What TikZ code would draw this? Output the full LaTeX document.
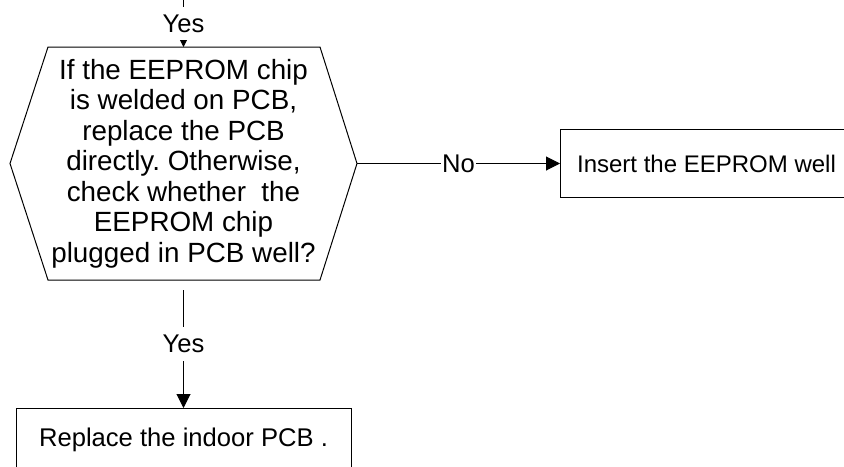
\documentclass[tikz,border=0pt]{standalone}
\usepackage{fontspec}
\setmainfont{Liberation Sans}
\usetikzlibrary{arrows.meta,positioning}
\frenchspacing

\begin{document}
\begin{tikzpicture}[
  x = 0.5pt, y = -0.5pt,
  every node/.style={font=\fontsize{12.8}{15}\selectfont},
  process/.style={draw, line width=0.5pt, minimum height=34pt, inner sep=0},
  flow/.style={line width=0.5pt, -{Triangle[length=7pt, width=7pt]}},
  answer/.style={fill=white, inner xsep=0.5pt, inner ysep=4pt},
  every text node part/.style={align=center}
]
%general params
\def\hx{183.5} %centre line of the decision
\def\hy{163.5} %middle of the decision

\useasboundingbox (0,0) rectangle (844,466);

%decision
\coordinate (entry) at (\hx,0);
\coordinate (check-top) at (\hx,47);
\coordinate (check-bot) at (\hx,280);
\coordinate (check-right) at (357,\hy);
\draw[line width=0.5pt] (48,47) -- (320,47) -- (check-right) -- (320,280) -- (48,280) -- (10,\hy) -- cycle;
\node[font=\fontsize{13.9}{15.25}\selectfont] (check) at (\hx,\hy) {If the EEPROM chip\\is welded on PCB,\\replace the PCB\\directly. Otherwise,\\check whether\ \ the\\EEPROM chip\\plugged in PCB well?};

%outcomes
\node[process, font=\fontsize{12}{15}\selectfont, minimum width=146pt, right=101.5pt of check-right] (insert) {Insert the EEPROM well};
\node[process, minimum width=167.5pt, minimum height=31pt, below=64pt of check-bot] (replace) {Replace the indoor PCB .};

%connectors
\draw[flow] (entry) -- node[answer] {Yes} (check-top);
\draw[flow] (check-right) -- node[answer] {No} (insert);
\draw[flow, shorten <=5pt] (check-bot) -- node[answer] {Yes} (replace);

\end{tikzpicture}
\end{document}
